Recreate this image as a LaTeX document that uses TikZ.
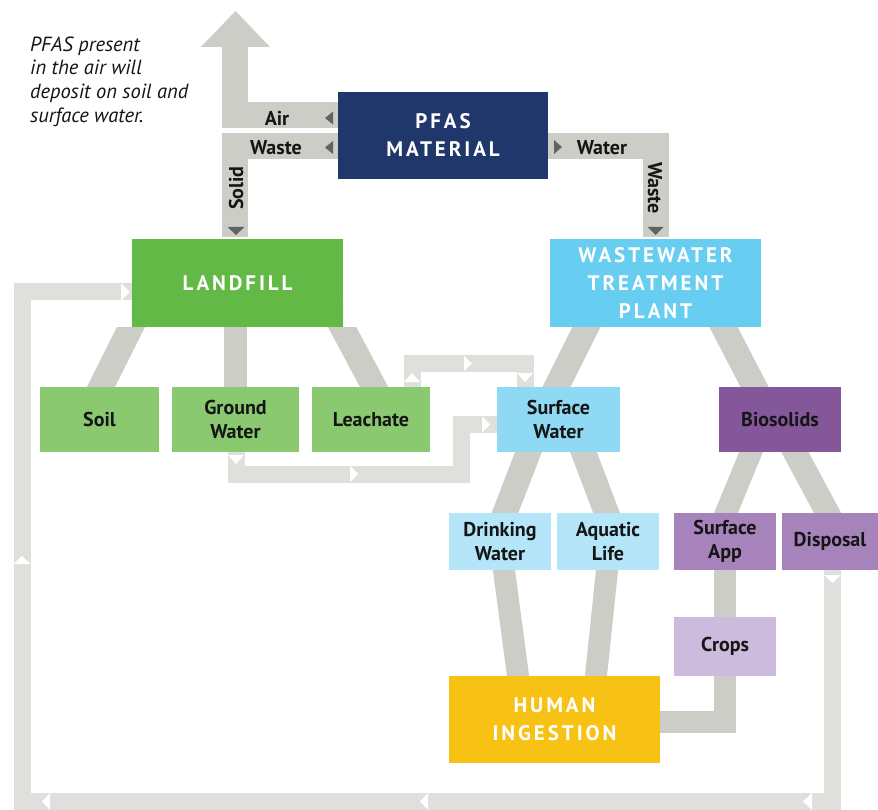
\documentclass[tikz,border=0pt]{standalone}
\usepackage{fontspec}
\setmainfont{PT Sans}
\usetikzlibrary{calc,backgrounds}
\definecolor{navy}{HTML}{1F376B}
\definecolor{lfgreen}{HTML}{62B946}
\definecolor{ltgreen}{HTML}{8AC96F}
\definecolor{wwblue}{HTML}{67CEF2}
\definecolor{swblue}{HTML}{8FD9F4}
\definecolor{paleblue}{HTML}{B4E5F8}
\definecolor{biopurple}{HTML}{84569A}
\definecolor{midpurple}{HTML}{A783BB}
\definecolor{palepurple}{HTML}{CCBBDD}
\definecolor{hiyellow}{HTML}{F7C214}
\definecolor{bandgray}{HTML}{CDCDC8}
\definecolor{loopgray}{HTML}{DFDFDB}
\definecolor{tridark}{HTML}{5E6561}
\definecolor{txt}{HTML}{151515}
\begin{document}
\begin{tikzpicture}[x=1pt,y=-1pt,
  titlebox/.style={inner sep=0pt, align=center, text=white,
    font=\fontsize{21}{28}\selectfont\bfseries\addfontfeature{LetterSpace=14}},
  labelbox/.style={inner sep=0pt, align=center, text=txt,
    font=\fontsize{20}{24}\selectfont\bfseries},
  bandlabel/.style={inner sep=0pt, text=txt, font=\fontsize{20}{24}\selectfont\bfseries},
  band/.style={draw=bandgray, line width=25pt},
  topband/.style={draw=bandgray, line width=26pt},
  loopband/.style={draw=loopgray, line width=17pt},
  darktri/.style={fill=tridark},
  whitetri/.style={fill=white}]
\useasboundingbox (0,0) rectangle (878,810);
\coordinate (O) at (0,0);
\coordinate (BR) at (878,810);

% boxes
\node[titlebox, fill=navy, minimum width=210pt, minimum height=87pt] (pfas) at (443,135.5) {PFAS\\MATERIAL};
\node[titlebox, fill=lfgreen, minimum width=211pt, minimum height=88pt] (landfill) at (237.5,283) {LANDFILL};
\node[titlebox, fill=wwblue, minimum width=211pt, minimum height=88pt] (wwtp) at (655.5,283) {WASTEWATER\\TREATMENT\\PLANT};
\node[labelbox, fill=ltgreen, minimum width=119pt, minimum height=65pt] (soil) at (99.5,419.5) {Soil};
\node[labelbox, fill=ltgreen, minimum width=127pt, minimum height=65pt] (gw) at (235.5,419.5) {Ground\\Water};
\node[labelbox, fill=ltgreen, minimum width=118pt, minimum height=65pt] (leach) at (371,419.5) {Leachate};
\node[labelbox, fill=swblue, minimum width=123pt, minimum height=65pt] (sw) at (558.5,419.5) {Surface\\Water};
\node[labelbox, fill=biopurple, minimum width=122pt, minimum height=65pt] (bio) at (780,419.5) {Biosolids};
\node[labelbox, fill=paleblue, minimum width=102pt, minimum height=57pt] (dw) at (500,541.5) {Drinking\\Water};
\node[labelbox, fill=paleblue, minimum width=102pt, minimum height=57pt] (al) at (608,541.5) {Aquatic\\Life};
\node[labelbox, fill=midpurple, minimum width=102pt, minimum height=57pt] (sapp) at (725,541.5) {Surface\\App};
\node[labelbox, fill=midpurple, minimum width=96pt, minimum height=57pt] (disp) at (830,541.5) {Disposal};
\node[labelbox, fill=palepurple, minimum width=102pt, minimum height=59pt] (crops) at (725,646.5) {Crops};
\node[titlebox, fill=hiyellow, minimum width=211pt, minimum height=87pt] (hi) at (554.5,719.5) {HUMAN\\INGESTION};

% note
\node[inner sep=0pt, anchor=north west, align=left, text=txt,
  font=\fontsize{20.5}{23.6}\selectfont\itshape] (note) at (30,36.5)
  {PFAS present\\in the air will\\deposit on soil and\\surface water.};

\begin{pgfonlayer}{background}
% top bands
\coordinate (airtop) at (235,46);
\coordinate (airtip) at (235.5,11);
\draw[topband] ($(pfas.west)+(2,-20.5)$) -| (airtop);
\fill[bandgray] (201,47) -- (270,47) -- (airtip) -- cycle;
\draw[topband] ($(pfas.west)+(2,11)$) -| ($(landfill.north)+(-2.5,-2)$);
\draw[topband] ($(pfas.east)+(-2,11)$) -| ($(wwtp.north)+(0.5,-2)$);
\fill[darktri] (325,118) -- (333,111.5) -- (333,124.5) -- cycle;
\fill[darktri] (325,147.5) -- (333,141) -- (333,154) -- cycle;
\fill[darktri] (562,147) -- (554,140) -- (554,154) -- cycle;
\fill[darktri] (227.5,227) -- (244.5,227) -- (236,235) -- cycle;
\fill[darktri] (647.5,227) -- (663.5,227) -- (655.5,235) -- cycle;

% landfill connectors (clipped at the box)
\begin{scope}
\clip (landfill.north west) rectangle (landfill.south east) (landfill.south -| O) rectangle (BR);
\draw[band, shorten <=-8pt] ($(soil.north)+(1.5,0)$) -- ($(landfill.south west)+(14,-30)$);
\draw[band, line width=23pt] ($(gw.north)+(0,4)$) -- (gw.north |- landfill.center);
\draw[band, shorten <=-8pt] ($(leach.north)+(3,0)$) -- ($(landfill.south east)+(-17,-30)$);
\end{scope}

% other thick connectors
\draw[band, shorten <=-8pt] ($(sw.north)+(-2,0)$) -- ($(wwtp.south west)+(46.5,-20)$);
\draw[band, shorten <=-8pt] ($(bio.north)+(-25.5,0)$) -- ($(wwtp.south east)+(-48,-20)$);
\draw[band, shorten >=-8pt] ($(sw.south)+(-25.5,-12)$) -- ($(dw.north)+(5,0)$);
\draw[band, shorten >=-8pt] ($(sw.south)+(20.5,-12)$) -- ($(al.north)+(-1.5,0)$);
\draw[band, line width=22pt, shorten <=-8pt, shorten >=-8pt] ($(dw.south)+(4,0)$) -- ($(hi.north)+(-36.5,0)$);
\draw[band, line width=22pt, shorten <=-8pt, shorten >=-8pt] ($(al.south)+(-1,0)$) -- ($(hi.north)+(41.5,0)$);
\draw[band, line width=22pt, shorten <=-8pt, shorten >=-8pt] ($(bio.south)+(-29,0)$) -- ($(sapp.north)+(1,0)$);
\draw[band, line width=24pt, shorten <=-8pt, shorten >=-8pt] ($(bio.south)+(15,0)$) -- ($(disp.north)+(-2.5,0)$);
\draw[band, line width=22pt] ($(sapp.south)+(0,-3)$) -- ($(crops.north)+(0,3)$);
\draw[band, line width=22pt] ($(crops.south)+(0,-3)$) |- ($(hi.east)+(-2,2.5)$);

% loops
\coordinate (loopbl) at (22,801.5);
\draw[loopband] ($(disp.south)+(2,-2)$) |- (loopbl) |- ($(landfill.west)+(2,9)$);
\fill[whitetri] (824,575) -- (841,575) -- (832.5,583) -- cycle;
\fill[whitetri] (803,801.5) -- (812,793) -- (812,810) -- cycle;
\fill[whitetri] (420,801.5) -- (428,793) -- (428,810) -- cycle;
\fill[whitetri] (42,801.5) -- (50,793) -- (50,810) -- cycle;
\fill[whitetri] (22,556) -- (13.5,564) -- (30.5,564) -- cycle;
\fill[whitetri] (130,292) -- (121,283.5) -- (121,300.5) -- cycle;

\coordinate (gwbend) at (461.5,474);
\draw[loopband] ($(gw.south)+(0.5,-2)$) |- (gwbend) |- ($(sw.west)+(2,5)$);
\fill[whitetri] (228,455) -- (244,455) -- (236,464) -- cycle;
\fill[whitetri] (358,474) -- (350,466) -- (350,482) -- cycle;
\fill[whitetri] (490,424.5) -- (482,416.5) -- (482,432.5) -- cycle;

\coordinate (lsA) at (412,363.5);
\coordinate (lsB) at (525,363.5);
\draw[loopband] ($(leach.north)+(41,2)$) -- (lsA) -- (lsB) -- ($(sw.north)+(-33.5,2)$);
\fill[whitetri] (404,382) -- (420,382) -- (412,373) -- cycle;
\fill[whitetri] (472,363.5) -- (464,356) -- (464,371) -- cycle;
\fill[whitetri] (517,373) -- (533,373) -- (525,382) -- cycle;
\end{pgfonlayer}

% band labels
\node[bandlabel] (lair) at (277,118) {Air};
\node[bandlabel] (lwaste) at (276,148) {Waste};
\node[bandlabel, rotate=90] (lsolid) at (236,188) {Solid};
\node[bandlabel] (lwater) at (602,148) {Water};
\node[bandlabel, rotate=-90] (lwaste2) at (655,188) {Waste};
\end{tikzpicture}
\end{document}
